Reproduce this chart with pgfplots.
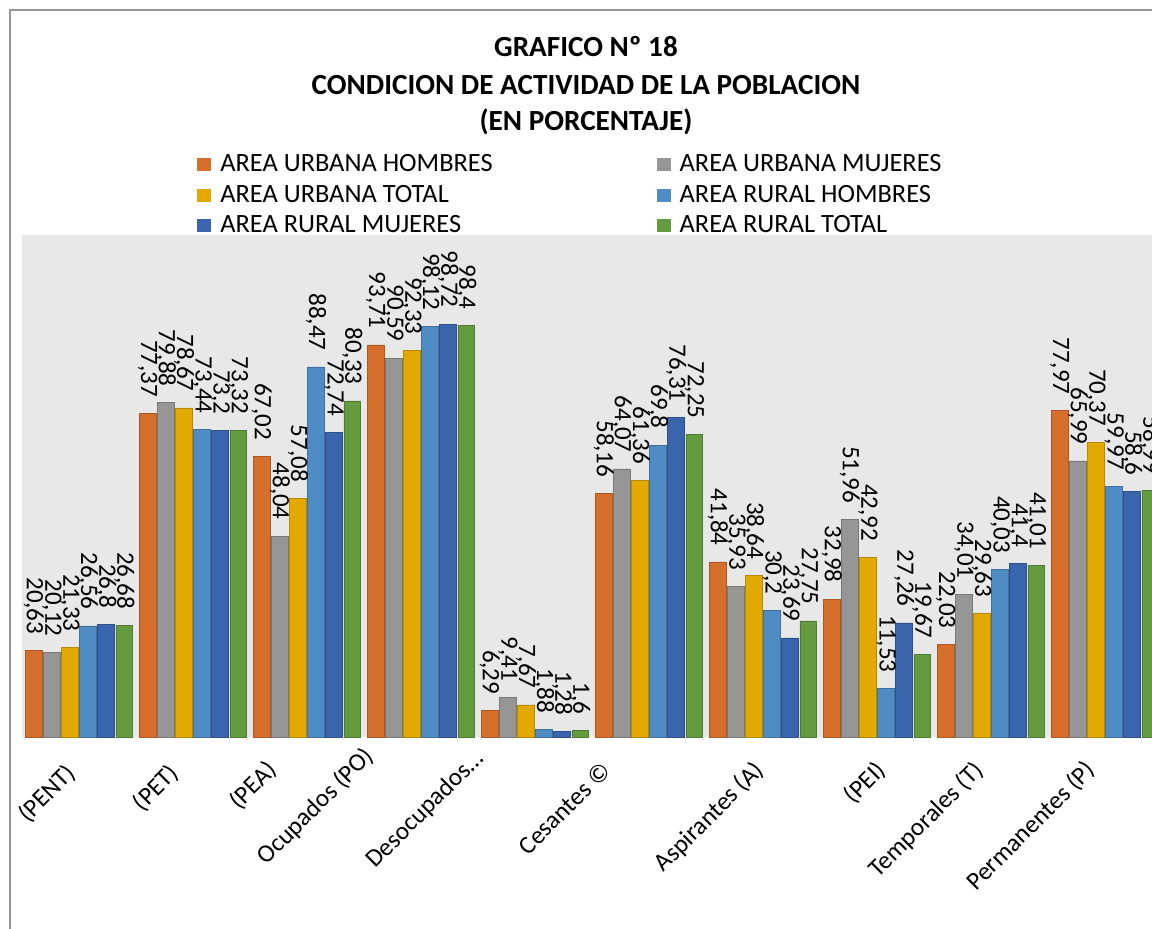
\documentclass[border=0pt]{standalone}
\usepackage{graphicx}
\usepackage{pgfplots}
\usepackage{pgfplotstable}
\pgfplotsset{compat=1.18}
\usepackage{fontspec}
\setmainfont{Carlito}

\definecolor{cOrange}{RGB}{214,110,44}
\definecolor{cGray}{RGB}{150,150,150}
\definecolor{cGold}{RGB}{226,170,0}
\definecolor{cBlue}{RGB}{80,140,196}
\definecolor{cNavy}{RGB}{58,100,172}
\definecolor{cGreen}{RGB}{99,155,62}
\definecolor{plotbg}{RGB}{232,232,232}
\definecolor{frame}{RGB}{150,150,150}

% Condicion de actividad (%), by area and sex
\pgfplotstableread{
x uh    um    ut    rh    rm    rt
0 20.63 20.12 21.33 26.56 26.8  26.68
1 77.37 79.88 78.67 73.44 73.2  73.32
2 67.02 48.04 57.08 88.47 72.74 80.33
3 93.71 90.59 92.33 98.12 98.72 98.4
4 6.29  9.41  7.67  1.88  1.28  1.6
5 58.16 64.07 61.36 69.8  76.31 72.25
6 41.84 35.93 38.64 30.2  23.69 27.75
7 32.98 51.96 42.92 11.53 27.26 19.67
8 22.03 34.01 29.63 40.03 41.4  41.01
9 77.97 65.99 70.37 59.97 58.6  58.99
}\datatable

\pgfplotsset{
  sqlegend/.style={legend image code/.code={\fill[##1,draw=none] (0pt,-3.2pt) rectangle (7pt,3.2pt);}},
  serie/.style={fill=#1, draw=#1!80!black, line width=0.4pt, sqlegend},
}

\begin{document}
\begin{tikzpicture}
% outer chart frame
\draw[frame, line width=1pt] (5pt,-470pt) -- (5pt,-5pt) -- (585pt,-5pt);

% titles
\node[font=\fontsize{14.6}{16}\bfseries\selectfont] at (293pt,-23.5pt) {GRAFICO Nº 18};
\node[font=\fontsize{14.6}{16}\bfseries\selectfont] at (293pt,-42.5pt) {CONDICION DE ACTIVIDAD DE LA POBLACION};
\node[font=\fontsize{14.6}{16}\bfseries\selectfont] at (293pt,-61pt) {(EN PORCENTAJE)};

\begin{axis}[
  at={(11pt,-368.5pt)}, anchor=south west,
  scale only axis, width=570pt, height=251pt,
  xmin=-0.5, xmax=9.5, ymin=0, ymax=120,
  ybar, bar width=0.1465,
  axis background/.style={fill=plotbg},
  axis line style={draw=none},
  xtick=\empty, ytick=\empty,
  /pgf/number format/use comma,
  /pgf/number format/fixed,
  /pgf/number format/precision=2,
  /pgf/number format/assume math mode=true,
  nodes near coords={\rotatebox{-90}{\pgfmathprintnumber{\pgfplotspointmeta}}},
  every node near coord/.append style={font=\fontsize{12.5}{12.5}\selectfont, text=black, inner sep=0pt, yshift=8pt},
  legend style={at={(0.1482,1.177)}, anchor=north west, draw=none, fill=none,
    font=\fontsize{13.2}{13.2}\selectfont, row sep=1.25pt,
    /tikz/every even column/.append style={column sep=80pt},
    /tikz/every odd column/.append style={column sep=2.5pt}},
  legend columns=2, legend cell align=left,
]
\addplot[serie=cOrange, bar shift=-0.3975] table[x=x, y=uh] {\datatable};
\addplot[serie=cGray,   bar shift=-0.2385] table[x=x, y=um] {\datatable};
\addplot[serie=cGold,   bar shift=-0.0795] table[x=x, y=ut] {\datatable};
\addplot[serie=cBlue,   bar shift=0.0795]  table[x=x, y=rh] {\datatable};
\addplot[serie=cNavy,   bar shift=0.2385]  table[x=x, y=rm] {\datatable};
\addplot[serie=cGreen,  bar shift=0.3975]  table[x=x, y=rt] {\datatable};
\legend{AREA URBANA HOMBRES, AREA URBANA MUJERES, AREA URBANA TOTAL, AREA RURAL HOMBRES, AREA RURAL MUJERES, AREA RURAL TOTAL}
\end{axis}

% category names, slanted at 45 degrees
\begin{scope}[every node/.style={rotate=45, anchor=north east, inner sep=0pt, font=\fontsize{12.6}{12.6}\selectfont}]
\node at (32pt,-380.5pt) {(PENT)};
\node at (83.5pt,-380.5pt) {(PET)};
\node at (132.5pt,-379pt) {(PEA)};
\node at (181pt,-372pt) {Ocupados (PO)};
\node at (236pt,-373.5pt) {Desocupados…};
\node at (300pt,-380pt) {Cesantes ©};
\node at (376pt,-379pt) {Aspirantes (A)};
\node at (437pt,-379pt) {(PEI)};
\node at (486pt,-379pt) {Temporales (T)};
\node at (541.5pt,-379pt) {Permanentes (P)};
\end{scope}

\pgfresetboundingbox
\path (0pt,0pt) rectangle (576pt,-464pt);
\end{tikzpicture}
\end{document}
